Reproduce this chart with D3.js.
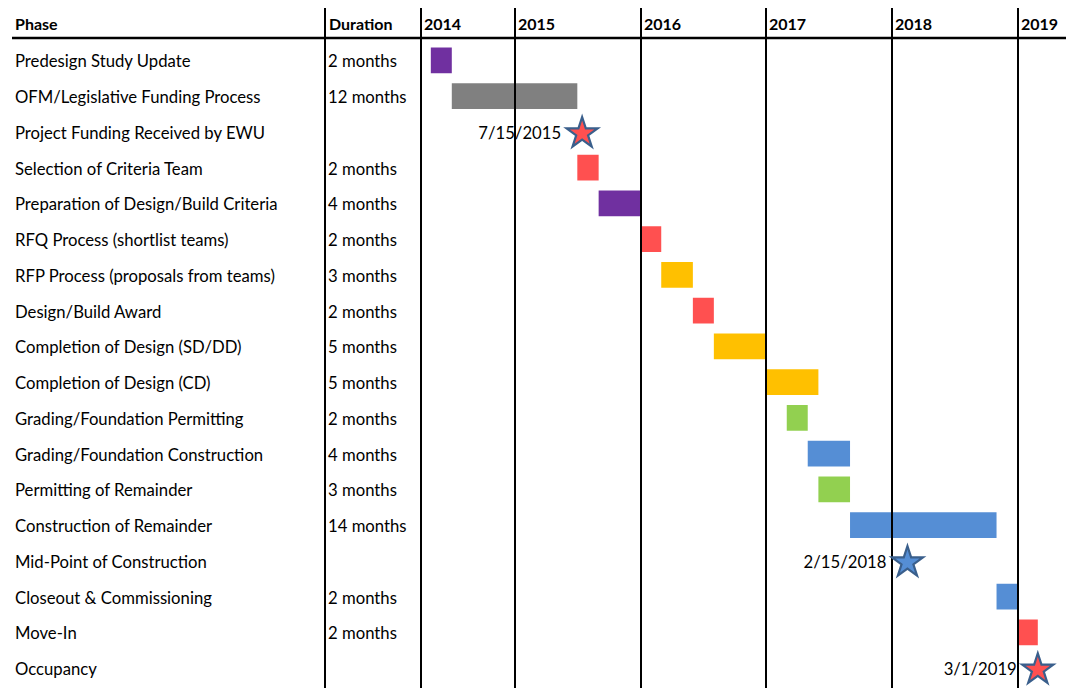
<!DOCTYPE html>
<html><head><meta charset="utf-8">
<script src="https://cdn.jsdelivr.net/npm/d3@7/dist/d3.min.js"></script>
<style>body{margin:0;background:#fff}svg{display:block}text{font-family:Lato,"Open Sans",sans-serif;fill:#000}</style>
</head><body><svg id="c" width="1066" height="688"></svg>
<script>
const phases = ["Predesign Study Update","OFM/Legislative Funding Process","Project Funding Received by EWU","Selection of Criteria Team","Preparation of Design/Build Criteria","RFQ Process (shortlist teams)","RFP Process (proposals from teams)","Design/Build Award","Completion of Design (SD/DD)","Completion of Design (CD)","Grading/Foundation Permitting","Grading/Foundation Construction","Permitting of Remainder","Construction of Remainder","Mid-Point of Construction","Closeout & Commissioning","Move-In","Occupancy"];
const durations = ["2 months","12 months","","2 months","4 months","2 months","3 months","2 months","5 months","5 months","2 months","4 months","3 months","14 months","","2 months","2 months",""];
const starts = ["2014-05-01","2014-07-01",null,"2015-07-01","2015-09-01","2016-01-01","2016-03-01","2016-06-01","2016-08-01","2017-01-01","2017-03-01","2017-05-01","2017-06-01","2017-09-01",null,"2018-11-01","2019-01-01",null];
const ends = ["2014-07-01","2015-07-01",null,"2015-09-01","2016-01-01","2016-03-01","2016-06-01","2016-08-01","2017-01-01","2017-06-01","2017-05-01","2017-09-01","2017-09-01","2018-11-01",null,"2019-01-01","2019-03-01",null];
const barGroups = ["predesign","funding",null,"red","predesign","red","yellow","red","yellow","yellow","green","blue","green","blue",null,"blue","red",null];
const milestoneRows = ["Project Funding Received by EWU","Mid-Point of Construction","Occupancy"];
const milestoneDates = ["2015-07-15","2018-02-15","2019-03-01"];
const milestoneLabels = ["7/15/2015","2/15/2018","3/1/2019"];
const milestoneGroups = ["red","blue","red"];
const yearLabels = ["2014","2015","2016","2017","2018","2019"];
const yearDates = ["2014-04-01","2015-01-01","2016-01-01","2017-01-01","2018-01-01","2019-01-01"];
const domainDates = ["2014-04-01","2019-05-22"];

const parse = d3.utcParse("%Y-%m-%d");
const color = d3.scaleOrdinal()
  .domain(["predesign","funding","red","yellow","green","blue"])
  .range(["#7030A0","#808080","#FF5050","#FFC000","#92D050","#558ED5"]);

const svg = d3.select("#c");
const x = d3.scaleUtc().domain(domainDates.map(parse)).range([420.5, 1066]);
const y = d3.scaleBand().domain(phases).range([42.5, 686]).paddingInner(0.28).paddingOuter(0.14);

// bars
const tasks = phases.map((p,i)=>({p, s:starts[i], e:ends[i], g:barGroups[i], d:durations[i]}));
svg.append("g").selectAll("rect").data(tasks.filter(t=>t.s)).join("rect")
  .attr("x", d=>x(parse(d.s)))
  .attr("width", d=>x(parse(d.e))-x(parse(d.s)))
  .attr("y", d=>y(d.p))
  .attr("height", y.bandwidth())
  .attr("fill", d=>color(d.g));

// grid lines (on top of bars)
const grid = svg.append("g").attr("stroke","#000").attr("stroke-width",2);
grid.append("line").attr("x1",325).attr("x2",325).attr("y1",8).attr("y2",688);
grid.selectAll("line.yr").data(yearDates).join("line").attr("class","yr")
  .attr("x1", d=>Math.round(x(parse(d)))).attr("x2", d=>Math.round(x(parse(d))))
  .attr("y1",8).attr("y2",688);
svg.append("line").attr("x1",12).attr("x2",1066).attr("y1",38).attr("y2",38)
  .attr("stroke","#000").attr("stroke-width",2.5);

// header
const hdr = svg.append("g").attr("font-weight","bold").attr("font-size",16);
hdr.append("text").attr("x",15).attr("y",30).text("Phase");
hdr.append("text").attr("x",329).attr("y",30).text("Duration");
hdr.selectAll("text.yr").data(yearLabels).join("text").attr("class","yr")
  .attr("x",(d,i)=>Math.round(x(parse(yearDates[i])))+3).attr("y",30).text(d=>d);

// row labels
const fs = 16.7;
const cy = p => y(p) + y.bandwidth()/2;
svg.append("g").attr("font-size",fs).selectAll("text").data(tasks).join("text")
  .attr("x",15).attr("y",d=>cy(d.p)+7).text(d=>d.p);
svg.append("g").attr("font-size",fs).selectAll("text").data(tasks.filter(t=>t.d)).join("text")
  .attr("x",328).attr("y",d=>cy(d.p)+7).text(d=>d.d);

// milestones
const ms = milestoneRows.map((r,i)=>({r, d:parse(milestoneDates[i]), l:milestoneLabels[i], g:milestoneGroups[i]}));
const star = d3.symbol().type(d3.symbolStar).size(300);
svg.append("g").selectAll("path").data(ms).join("path")
  .attr("transform", d=>`translate(${x(d.d)},${cy(d.r)+1.5})`)
  .attr("d", star)
  .attr("fill", d=>color(d.g))
  .attr("stroke","#3A5F8C").attr("stroke-width",2.2).attr("stroke-linejoin","miter");
svg.append("g").attr("font-size",fs).attr("text-anchor","end").selectAll("text").data(ms).join("text")
  .attr("x", d=>x(d.d)-21).attr("y", d=>cy(d.r)+7).text(d=>d.l);
</script></body></html>
